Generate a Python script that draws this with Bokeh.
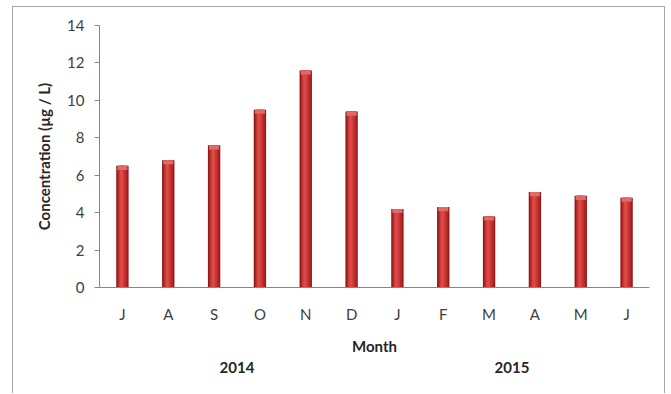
from bokeh.plotting import figure
from bokeh.models import FixedTicker, Range1d, LinearAxis
from bokeh.embed import file_html
from bokeh.resources import INLINE

months = ["J", "A", "S", "O", "N", "D", "J", "F", "M", "A", "M", "J"]
values = [6.5, 6.8, 7.6, 9.5, 11.6, 9.4, 4.2, 4.3, 3.8, 5.1, 4.9, 4.8]
years = ["2014", "2015"]
months_per_year = [6, 6]
y_ticks = [0, 2, 4, 6, 8, 10, 12, 14]

FONT = "Lato"
AX = "#868686"

idx = list(range(len(months)))

p = figure(width=653, height=387, output_backend="svg", toolbar_location=None,
           x_range=Range1d(-0.5, len(months) - 0.5), y_range=Range1d(0, 14),
           min_border_left=86, min_border_right=17, min_border_top=18, min_border_bottom=107,
           margin=(6, 0, 0, 12))
p.styles = {"border-top": "1px solid #a6a6a6", "border-left": "1px solid #a6a6a6",
            "border-right": "1px solid #a6a6a6"}
p.outline_line_color = None
p.grid.visible = False
p.background_fill_color = "white"
p.border_fill_color = "white"

# cylinder-like bars: layered strips
p.vbar(x=idx, top=values, width=0.27, fill_color="#8e1a1a", line_color=None)
p.vbar(x=idx, top=values, width=0.21, fill_color="#b52826", line_color=None)
p.vbar(x=[i - 0.01 for i in idx], top=values, width=0.14, fill_color="#cc3634", line_color=None)
p.vbar(x=[i - 0.02 for i in idx], top=values, width=0.07, fill_color="#d84a47", line_color=None)
# light cap at top
p.vbar(x=idx, top=values, bottom=[v - 0.22 for v in values], width=0.22,
       fill_color="#e06a66", line_color=None)

# axes
p.yaxis.ticker = FixedTicker(ticks=y_ticks)
p.xaxis.ticker = FixedTicker(ticks=idx)
p.xaxis.major_label_overrides = {i: m for i, m in zip(idx, months)}
for ax in (p.xaxis[0], p.yaxis[0]):
    ax.axis_line_color = AX
    ax.major_tick_line_color = AX
    ax.minor_tick_line_color = None
    ax.major_label_text_font = FONT
    ax.major_label_text_font_size = "15px"
    ax.major_label_text_color = "#404040"
    ax.axis_label_text_font = FONT
    ax.axis_label_text_font_size = "15px"
    ax.axis_label_text_font_style = "bold"
    ax.axis_label_text_color = "#262626"
p.yaxis.major_tick_in = 0
p.yaxis.major_tick_out = 5
p.yaxis.major_label_standoff = 10
p.yaxis.axis_label = "Concentration (µg / L)"
p.yaxis.axis_label_standoff = 11
p.xaxis.major_tick_in = 0
p.xaxis.major_tick_out = 0
p.xaxis.major_label_standoff = 17
p.xaxis.axis_label = "Month"
p.xaxis.axis_label_standoff = 11

# year group labels centred under their months, on a second bottom axis
centers = []
start = 0
for n in months_per_year:
    centers.append(start + (n - 1) / 2)
    start += n
year_axis = LinearAxis(ticker=FixedTicker(ticks=centers),
                       major_label_overrides={c: yr for c, yr in zip(centers, years)})
year_axis.axis_line_color = None
year_axis.major_tick_line_color = None
year_axis.minor_tick_line_color = None
year_axis.major_tick_in = 0
year_axis.major_tick_out = 0
year_axis.major_label_standoff = 4
year_axis.major_label_text_font = FONT
year_axis.major_label_text_font_size = "15px"
year_axis.major_label_text_font_style = "bold"
year_axis.major_label_text_color = "#262626"
p.add_layout(year_axis, "below")

open("out.html", "w").write(file_html(p, INLINE))
